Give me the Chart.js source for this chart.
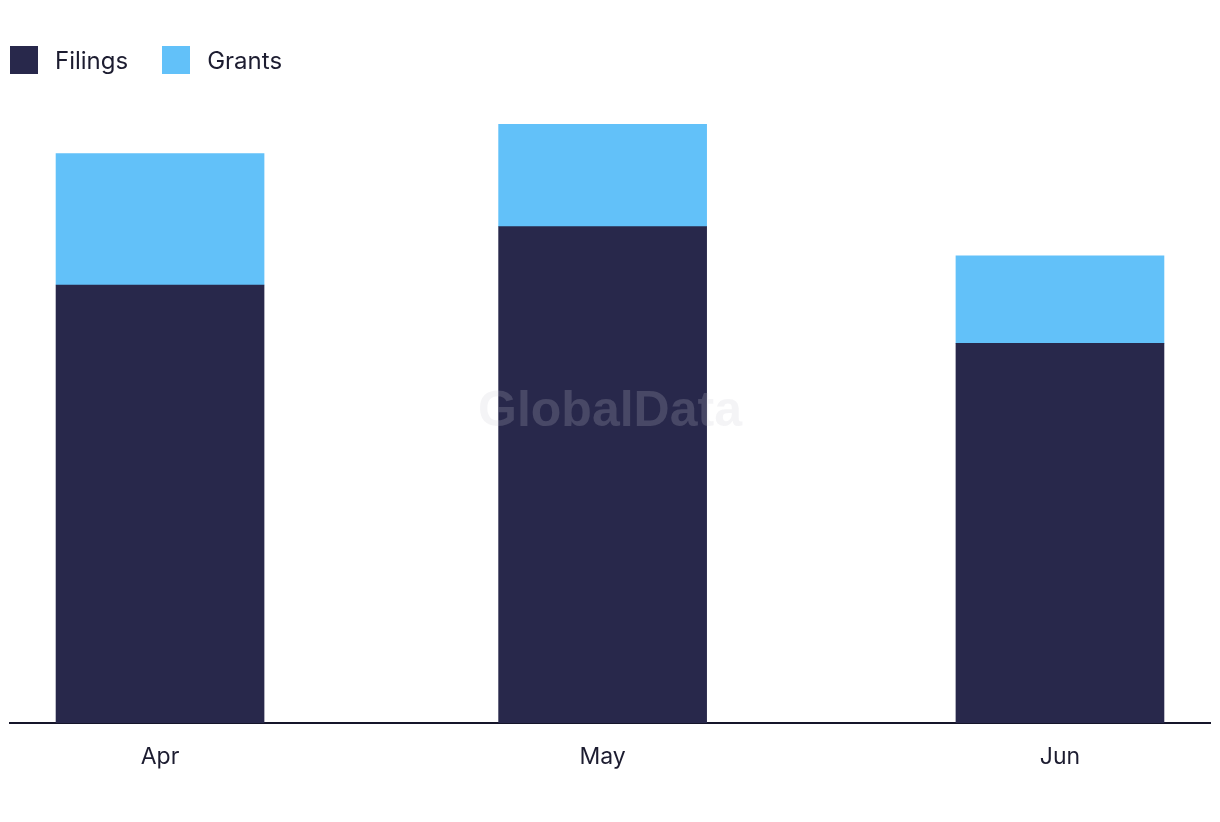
<!DOCTYPE html>
<html>
<head>
<meta charset="utf-8">
<script src="https://cdn.jsdelivr.net/npm/chart.js@4"></script>
<style>
  html, body { margin: 0; padding: 0; background: #fff; }
  #wrap { position: relative; width: 1220px; height: 822px; }
  #legend { position: absolute; left: 10px; top: 46px; display: flex; font-family: Inter, "Noto Sans", sans-serif; font-size: 24px; color: #1c1c30; }
  .item { display: flex; align-items: center; margin-right: 34px; height: 28px; }
  .box { width: 28px; height: 28px; margin-right: 17px; }
</style>
</head>
<body>
<div id="wrap">
  <div id="legend"></div>
  <canvas id="chart" width="1220" height="822"></canvas>
</div>
<script>
// data
const months = ["Apr", "May", "Jun"];
const monthDates = ["2024-04-01", "2024-05-01", "2024-06-01"];
const filings = [60, 68, 52];
const grants = [18, 14, 12];
const seriesNames = ["Filings", "Grants"];
const seriesColors = ["#28284b", "#62c1f9"];

// days since first month, so the spacing follows the calendar
const t0 = Date.parse(monthDates[0]);
const days = monthDates.map(d => (Date.parse(d) - t0) / 864e5);

// html legend
const legend = document.getElementById("legend");
seriesNames.forEach(function (name, i) {
  const item = document.createElement("div");
  item.className = "item";
  item.innerHTML = '<span class="box" style="background:' + seriesColors[i] + '"></span><span>' + name + '</span>';
  legend.appendChild(item);
});

const watermark = {
  id: "watermark",
  afterDatasetsDraw(chart) {
    const a = chart.chartArea;
    const ctx = chart.ctx;
    ctx.save();
    ctx.font = "bold 50px 'Liberation Sans', Arial, sans-serif";
    ctx.fillStyle = "rgba(200, 200, 212, 0.2)";
    ctx.textAlign = "center";
    ctx.textBaseline = "middle";
    ctx.fillText("GlobalData", (a.left + a.right) / 2, 412);
    ctx.restore();
  }
};

const pad = 10.17;
const ctx = document.getElementById("chart").getContext("2d");
const myChart = new Chart(ctx, {
  type: "bar",
  data: {
    datasets: [
      {
        label: seriesNames[0],
        data: days.map((d, i) => ({ x: d, y: filings[i] })),
        backgroundColor: seriesColors[0],
        barThickness: 208,
      },
      {
        label: seriesNames[1],
        data: days.map((d, i) => ({ x: d, y: grants[i] })),
        backgroundColor: seriesColors[1],
        barThickness: 208,
      },
    ],
  },
  plugins: [watermark],
  options: {
    responsive: false,
    animation: false,
    layout: { padding: { top: 102.5, left: 10, right: 10, bottom: 0 } },
    plugins: {
      legend: { display: false },
      tooltip: { enabled: false },
    },
    scales: {
      x: {
        type: "linear",
        stacked: true,
        offset: false,
        min: days[0] - pad,
        max: days[days.length - 1] + pad,
        afterBuildTicks: function (axis) {
          axis.ticks = days.map(v => ({ value: v }));
        },
        afterFit: function (axis) {
          axis.height = 99;
        },
        grid: { display: false },
        border: { display: true, color: "#15152a", width: 2 },
        ticks: {
          padding: 12,
          color: "#1c1c30",
          font: { family: "Inter, 'Noto Sans', sans-serif", size: 23 },
          callback: function (v) {
            return months[days.indexOf(v)];
          },
        },
      },
      y: {
        stacked: true,
        display: false,
        min: 0,
        max: 85,
      },
    },
  },
});
</script>
</body>
</html>
